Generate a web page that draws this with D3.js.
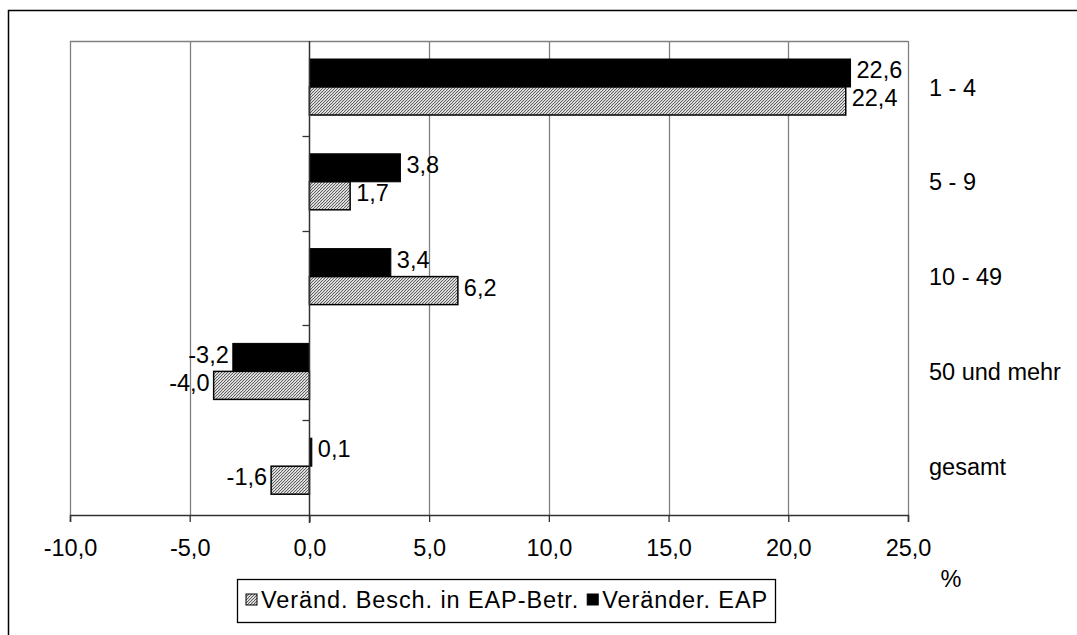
<!DOCTYPE html>
<html>
<head>
<meta charset="utf-8">
<script src="https://cdn.jsdelivr.net/npm/d3@7"></script>
<style>
  body { margin: 0; background: #fff; }
  svg { display: block; font-family: "Liberation Sans", Arial, sans-serif; }
</style>
</head>
<body>
<svg id="chart" width="1077" height="635"></svg>
<script>
// categories (top to bottom)
const categories = ["1 - 4", "5 - 9", "10 - 49", "50 und mehr", "gesamt"]
// Veränder. EAP (black bars)
const eapValues = [22.6, 3.8, 3.4, -3.2, 0.1]
// Veränd. Besch. in EAP-Betr. (hatched bars)
const beschValues = [22.4, 1.7, 6.2, -4.0, -1.6]
const xTicks = [-10, -5, 0, 5, 10, 15, 20, 25]
const seriesNames = ["Veränd. Besch. in EAP-Betr.", "Veränder. EAP"]

const svg = d3.select("#chart")
const plot = { left: 70, right: 908, top: 41, bottom: 515 }
const fontSize = 23.5
const fmt = v => d3.format(".1f")(v).replace(".", ",").replace("−", "-")

// fine dotted hatch for the first series
const defs = svg.append("defs")
const pat = defs.append("pattern")
  .attr("id", "hatch")
  .attr("patternUnits", "userSpaceOnUse")
  .attr("width", 3).attr("height", 3)
pat.append("rect").attr("width", 3).attr("height", 3).attr("fill", "#d6d6d6")
pat.append("path")
  .attr("d", "M-0.75,0.75 l1.5,-1.5 M0,3 l3,-3 M2.25,3.75 l1.5,-1.5")
  .attr("stroke", "#505050").attr("stroke-width", 0.9)
pat.append("rect").attr("x", 1).attr("y", 0).attr("width", 0.8).attr("height", 0.8).attr("fill", "#fff")

// outer frame (cropped at right / bottom)
svg.append("path")
  .attr("d", "M8.5,640 V10.5 H1090")
  .attr("fill", "none").attr("stroke", "#000").attr("stroke-width", 1.5)

const x = d3.scaleLinear().domain([-10, 25]).range([plot.left, plot.right])
const y = d3.scaleBand().domain(categories).range([plot.top, plot.bottom])

// grid lines
svg.append("g").selectAll("line")
  .data(xTicks.filter(t => t !== 0))
  .join("line")
  .attr("x1", d => Math.round(x(d)) + 0.5).attr("x2", d => Math.round(x(d)) + 0.5)
  .attr("y1", plot.top).attr("y2", plot.bottom)
  .attr("stroke", "#808080").attr("stroke-width", 1.3)

// plot frame top line
svg.append("line")
  .attr("x1", plot.left).attr("x2", plot.right)
  .attr("y1", plot.top + 0.5).attr("y2", plot.top + 0.5)
  .attr("stroke", "#808080").attr("stroke-width", 1.3)

// bars
const barH = 28
const bandOffset = 18
const bars = svg.append("g")
categories.forEach((c, i) => {
  const top = y(c) + bandOffset
  const e = eapValues[i], b = beschValues[i]
  bars.append("rect")
    .attr("x", x(Math.min(0, e))).attr("width", Math.abs(x(e) - x(0)))
    .attr("y", top).attr("height", barH)
    .attr("fill", "#000").attr("stroke", "#000").attr("stroke-width", 1)
  bars.append("rect")
    .attr("x", x(Math.min(0, b))).attr("width", Math.abs(x(b) - x(0)))
    .attr("y", top + barH).attr("height", barH)
    .attr("fill", "url(#hatch)").attr("stroke", "#000").attr("stroke-width", 1.5)

  // value labels
  ;[[e, top + barH / 2], [b, top + barH * 1.5]].forEach(([v, cy]) => {
    bars.append("text")
      .attr("x", v >= 0 ? x(v) + 6 : x(v) - 4)
      .attr("y", cy - 3)
      .attr("dy", "0.35em")
      .attr("text-anchor", v >= 0 ? "start" : "end")
      .attr("font-size", fontSize)
      .text(fmt(v))
  })

  // category label on the right
  svg.append("text")
    .attr("x", 929).attr("y", y(c) + y.bandwidth() / 2 - 1)
    .attr("dy", "0.35em")
    .attr("font-size", fontSize)
    .text(c)
})

// zero axis with category ticks
const x0 = Math.round(x(0)) + 0.5
svg.append("line")
  .attr("x1", x0).attr("x2", x0).attr("y1", plot.top).attr("y2", plot.bottom + 8)
  .attr("stroke", "#333").attr("stroke-width", 1.5)
svg.append("g").selectAll("line")
  .data(d3.range(1, categories.length))
  .join("line")
  .attr("x1", x0 - 7).attr("x2", x0)
  .attr("y1", i => Math.round(plot.top + i * y.step()) + 0.5)
  .attr("y2", i => Math.round(plot.top + i * y.step()) + 0.5)
  .attr("stroke", "#333").attr("stroke-width", 1.3)

// bottom axis
const axis = d3.axisBottom(x).tickValues(xTicks).tickSize(7).tickFormat(fmt)
const ax = svg.append("g").attr("transform", `translate(0,${plot.bottom})`).call(axis)
ax.select(".domain").attr("stroke", "#333").attr("stroke-width", 1.5)
ax.selectAll(".tick line").attr("stroke", "#333").attr("stroke-width", 1.3)
ax.selectAll(".tick text")
  .attr("font-size", fontSize).attr("font-family", "Liberation Sans, Arial, sans-serif")
  .attr("fill", "#000").attr("y", 33).attr("dy", "0.35em")

svg.append("text")
  .attr("x", 951).attr("y", 579).attr("dy", "0.35em")
  .attr("text-anchor", "middle").attr("font-size", fontSize)
  .text("%")

// legend
const lg = svg.append("g")
lg.append("rect")
  .attr("x", 237.5).attr("y", 579.5).attr("width", 538).attr("height", 43)
  .attr("fill", "#fff").attr("stroke", "#000").attr("stroke-width", 1.3)
let lx = 246
seriesNames.forEach((name, i) => {
  lg.append("rect")
    .attr("x", lx).attr("y", 594).attr("width", 11).attr("height", 11)
    .attr("fill", i === 0 ? "url(#hatch)" : "#000").attr("stroke", "#000").attr("stroke-width", 1)
  const t = lg.append("text")
    .attr("x", lx + 15).attr("y", 600).attr("dy", "0.35em")
    .attr("font-size", fontSize)
    .attr("letter-spacing", 0.9)
    .text(name)
  lx = lx + 15 + t.node().getComputedTextLength() + 8
})
</script>
</body>
</html>
